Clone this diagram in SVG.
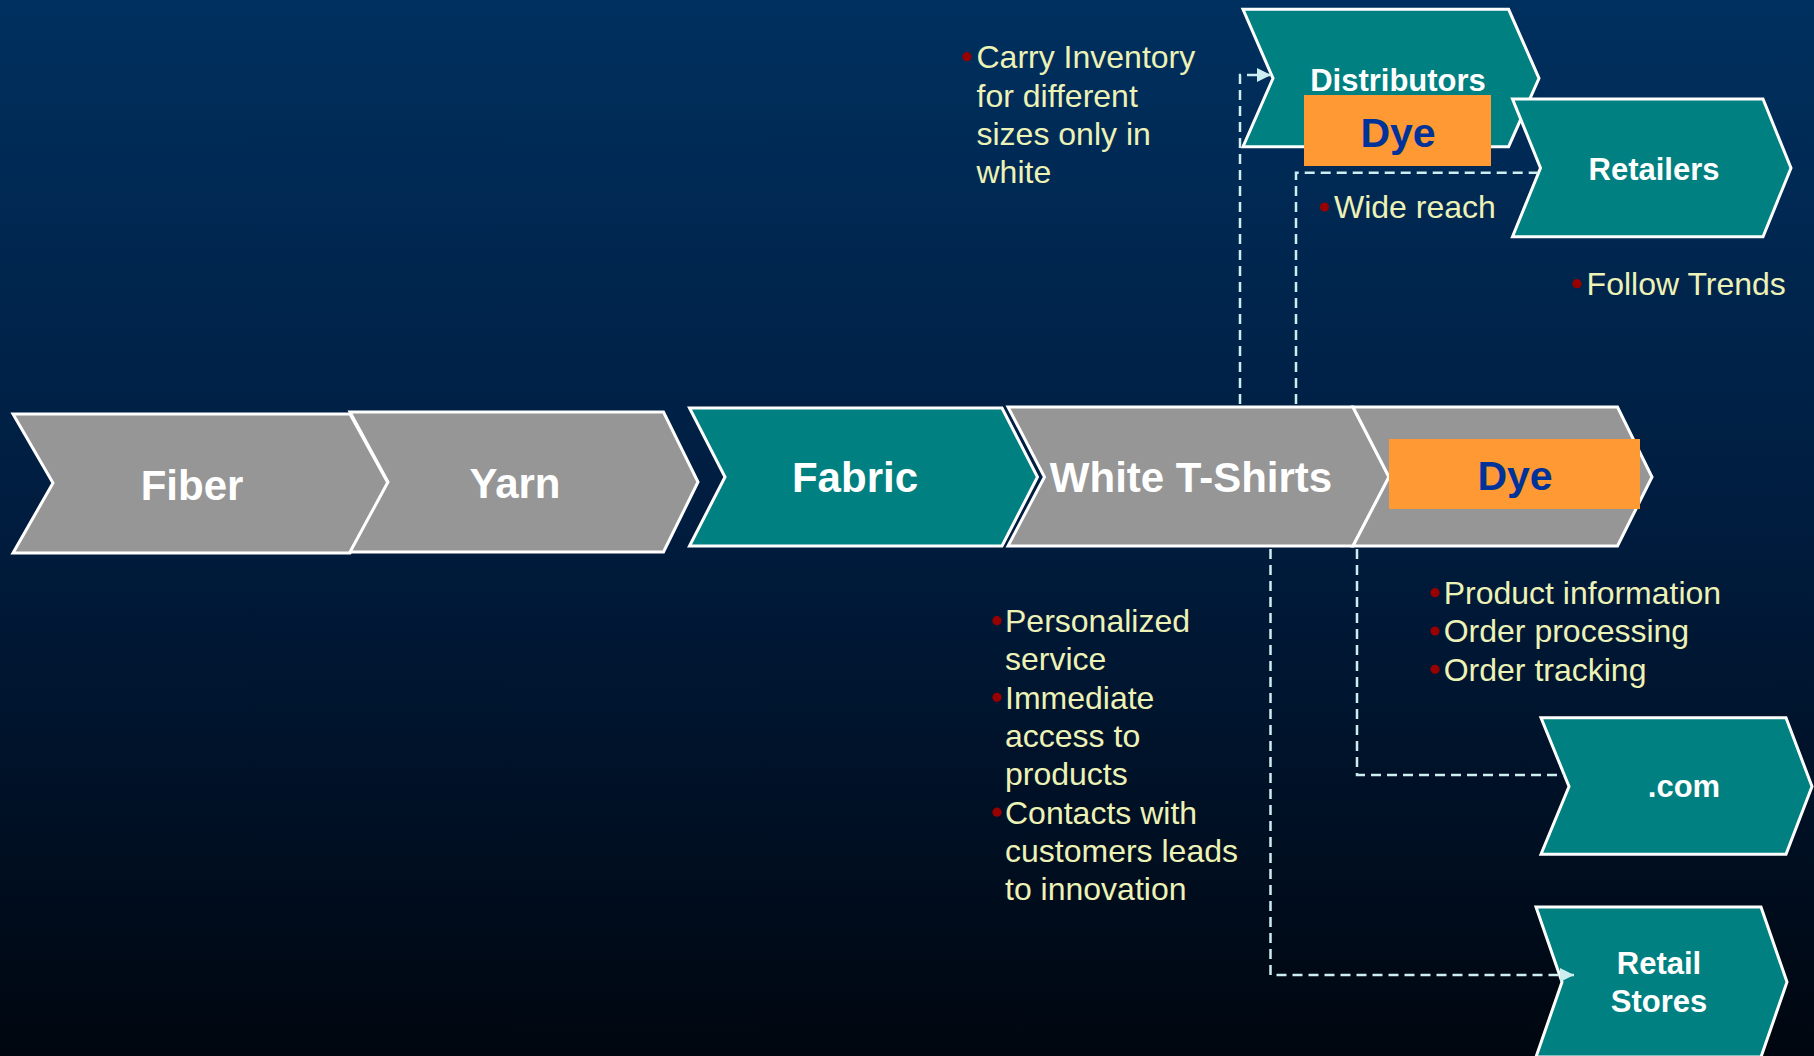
<svg xmlns="http://www.w3.org/2000/svg" width="1814" height="1056" viewBox="0 0 1814 1056">
  <defs>
    <linearGradient id="bg" x1="0" y1="0" x2="0" y2="1">
      <stop offset="0" stop-color="#00305f"/>
      <stop offset="0.5" stop-color="#001c3e"/>
      <stop offset="1" stop-color="#00060f"/>
    </linearGradient>
    <marker id="arrow" viewBox="0 0 14 14" refX="14" refY="7" markerWidth="14" markerHeight="14" markerUnits="userSpaceOnUse" orient="auto">
      <path d="M0,0 L14,7 L0,14 Z" fill="#cdeef0"/>
    </marker>
    <style>
      .gray { fill: #969696; stroke: #ffffff; stroke-width: 3; stroke-linejoin: miter; }
      .teal { fill: #008080; stroke: #ffffff; stroke-width: 3; stroke-linejoin: miter; }
      .dye { fill: #ff9933; }
      .big { font-family: "Liberation Sans", Arial, sans-serif; font-weight: bold; font-size: 42px; fill: #ffffff; text-anchor: middle; }
      .mid { font-family: "Liberation Sans", Arial, sans-serif; font-weight: bold; font-size: 31px; fill: #ffffff; text-anchor: middle; }
      .dyet { font-family: "Liberation Sans", Arial, sans-serif; font-weight: bold; font-size: 41px; fill: #003399; text-anchor: middle; }
      .note { font-family: "Liberation Sans", Arial, sans-serif; font-size: 32px; fill: #edf2b6; }
      .dot { fill: #990000; }
      .conn { fill: none; stroke: #cdeef0; stroke-width: 2.5; stroke-dasharray: 10 6; }
    </style>
  </defs>

  <rect x="0" y="0" width="1814" height="1056" fill="url(#bg)"/>

  <g id="fiber">
    <polygon class="gray" points="13,414 350,414 388,483 350,553 13,553 53,483"/>
    <text class="big" x="192" y="500">Fiber</text>
  </g>
  <g id="yarn">
    <polygon class="gray" points="350,412 663.5,412 698,482 663.5,552 350,552 388,482"/>
    <text class="big" x="515" y="498">Yarn</text>
  </g>
  <g id="fabric">
    <polygon class="teal" points="689.5,408 1002,408 1037.5,477 1002,546 689.5,546 725,477"/>
    <text class="big" x="855" y="492">Fabric</text>
  </g>
  <g id="white-tshirts">
    <polygon class="gray" points="1008,407 1353,407 1389,477 1353,546 1008,546 1044.5,477"/>
    <text class="big" x="1191" y="492">White T-Shirts</text>
  </g>
  <g id="dye-main">
    <polygon class="gray" points="1353,407 1617.5,407 1652,477 1617.5,546 1353,546 1389,477"/>
    <rect class="dye" x="1389" y="439" width="251" height="70"/>
    <text class="dyet" x="1515" y="490">Dye</text>
  </g>
  <g id="distributors">
    <polygon class="teal" points="1243,9.3 1508.6,9.3 1539,78.3 1508.6,146.7 1243,146.7 1273,78.3"/>
    <text class="mid" x="1398" y="90.7">Distributors</text>
    <rect class="dye" x="1304" y="95" width="187" height="71"/>
    <text class="dyet" x="1398" y="147">Dye</text>
  </g>
  <g id="retailers">
    <polygon class="teal" points="1512.5,99 1763,99 1791,168 1763,236.7 1512.5,236.7 1540.5,168"/>
    <text class="mid" x="1654" y="180">Retailers</text>
  </g>
  <g id="dotcom">
    <polygon class="teal" points="1541,717.7 1786,717.7 1812,786.5 1786,854.3 1541,854.3 1569,786.5"/>
    <text class="mid" x="1684" y="797">.com</text>
  </g>
  <g id="retail-stores">
    <polygon class="teal" points="1536,907 1761,907 1787,982 1761,1057 1536,1057 1562,982"/>
    <text class="mid" x="1659" y="974">Retail</text>
    <text class="mid" x="1659" y="1011.7">Stores</text>
  </g>

  <g id="connectors">
    <path class="conn" d="M1240,404 V75 H1271" marker-end="url(#arrow)"/>
    <path class="conn" d="M1296,404 V172.7 H1538"/>
    <path class="conn" d="M1270.5,549 V975 H1574" marker-end="url(#arrow)"/>
    <path class="conn" d="M1357,549 V775 H1564"/>
  </g>

  <g id="note-distributors">
    <circle class="dot" cx="967" cy="56.7" r="4.6"/>
    <text class="note" x="976.5" y="68.3">Carry Inventory</text>
    <text class="note" x="976.5" y="106.6">for different</text>
    <text class="note" x="976.5" y="144.9">sizes only in</text>
    <text class="note" x="976.5" y="183.2">white</text>
  </g>
  <g id="note-wide">
    <circle class="dot" cx="1324.5" cy="207" r="4.6"/>
    <text class="note" x="1334" y="218.3">Wide reach</text>
  </g>
  <g id="note-trends">
    <circle class="dot" cx="1577" cy="283.7" r="4.6"/>
    <text class="note" x="1586.6" y="295">Follow Trends</text>
  </g>
  <g id="note-com">
    <circle class="dot" cx="1435" cy="592.7" r="4.6"/>
    <text class="note" x="1443.7" y="604">Product information</text>
    <circle class="dot" cx="1435" cy="631" r="4.6"/>
    <text class="note" x="1443.7" y="642.3">Order processing</text>
    <circle class="dot" cx="1435" cy="669.3" r="4.6"/>
    <text class="note" x="1443.7" y="680.6">Order tracking</text>
  </g>
  <g id="note-stores">
    <circle class="dot" cx="997" cy="620.7" r="4.6"/>
    <text class="note" x="1005" y="632">Personalized</text>
    <text class="note" x="1005" y="670.3">service</text>
    <circle class="dot" cx="997" cy="697.3" r="4.6"/>
    <text class="note" x="1005" y="708.6">Immediate</text>
    <text class="note" x="1005" y="746.9">access to</text>
    <text class="note" x="1005" y="785.2">products</text>
    <circle class="dot" cx="997" cy="812.2" r="4.6"/>
    <text class="note" x="1005" y="823.5">Contacts with</text>
    <text class="note" x="1005" y="861.8">customers leads</text>
    <text class="note" x="1005" y="900.1">to innovation</text>
  </g>
</svg>
